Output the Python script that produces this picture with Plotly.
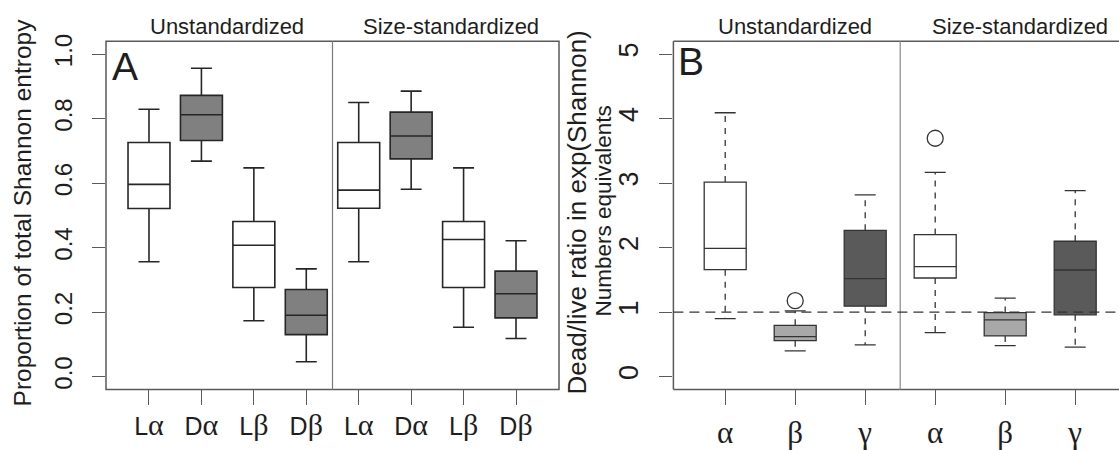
import plotly.graph_objects as go

# ---------------- Panel A data: proportion of total Shannon entropy ----------------
a_labels = ["Lα", "Dα", "Lβ", "Dβ", "Lα", "Dα", "Lβ", "Dβ"]
a_low = [0.356, 0.668, 0.173, 0.046, 0.356, 0.581, 0.153, 0.118]
a_q1 = [0.521, 0.732, 0.276, 0.130, 0.522, 0.675, 0.276, 0.182]
a_med = [0.596, 0.812, 0.407, 0.190, 0.578, 0.746, 0.425, 0.257]
a_q3 = [0.726, 0.872, 0.481, 0.270, 0.726, 0.820, 0.481, 0.327]
a_high = [0.829, 0.956, 0.647, 0.334, 0.850, 0.885, 0.647, 0.421]
a_ticks = [0.0, 0.2, 0.4, 0.6, 0.8, 1.0]

# ---------------- Panel B data: dead/live ratio in exp(Shannon) ----------------
b_labels = ["α", "β", "γ", "α", "β", "γ"]
b_low = [0.898, 0.397, 0.491, 0.680, 0.481, 0.456]
b_q1 = [1.657, 0.556, 1.091, 1.528, 0.630, 0.957]
b_med = [1.989, 0.620, 1.518, 1.706, 0.878, 1.652]
b_q3 = [3.016, 0.794, 2.267, 2.202, 0.992, 2.098]
b_high = [4.090, 1.017, 2.817, 3.165, 1.215, 2.882]
b_out_idx = [1, 3]          # index of box having an outlier
b_out_val = [1.176, 3.695]
b_ticks = [0, 1, 2, 3, 4, 5]
b_ref = 1.0

group_titles = ["Unstandardized", "Size-standardized"]

# ---------------- styles ----------------
a_fill = ["white", "#808080", "white", "#808080"] * 2
b_fill = ["white", "#a8a8a8", "#5a5a5a"] * 2
SANS = "Liberation Sans"
SERIF = "Liberation Serif"
INK = "#1e1e1e"
FRAME = "#5a5a5a"

W, H = 1119, 450
def px(x):
    return x / W
def py(y):
    return 1 - y / H

a_pos = list(range(1, len(a_labels) + 1))
b_pos = list(range(1, len(b_labels) + 1))

fig = go.Figure()

# Panel A boxes (solid whiskers)
for i, p in enumerate(a_pos):
    fig.add_trace(go.Box(
        x=[p], q1=[a_q1[i]], median=[a_med[i]], q3=[a_q3[i]],
        lowerfence=[a_low[i]], upperfence=[a_high[i]],
        width=0.8, whiskerwidth=0.5, fillcolor=a_fill[i],
        line=dict(color="#262626", width=1.6), boxpoints=False,
        xaxis="x", yaxis="y", showlegend=False, hoverinfo="skip"))

# Panel B boxes (dashed whiskers drawn separately)
for i, p in enumerate(b_pos):
    fig.add_trace(go.Scatter(
        x=[p, p, None, p, p], y=[b_q3[i], b_high[i], None, b_q1[i], b_low[i]],
        mode="lines", line=dict(color="#333333", width=1.3, dash="6px,6px"),
        xaxis="x2", yaxis="y2", showlegend=False, hoverinfo="skip"))
    fig.add_trace(go.Scatter(
        x=[p - 0.15, p + 0.15, None, p - 0.15, p + 0.15],
        y=[b_high[i], b_high[i], None, b_low[i], b_low[i]],
        mode="lines", line=dict(color="#333333", width=1.3),
        xaxis="x2", yaxis="y2", showlegend=False, hoverinfo="skip"))
    fig.add_trace(go.Box(
        x=[p], q1=[b_q1[i]], median=[b_med[i]], q3=[b_q3[i]],
        lowerfence=[b_q1[i]], upperfence=[b_q3[i]],
        width=0.6, whiskerwidth=0, fillcolor=b_fill[i],
        line=dict(color="#333333", width=1.3), boxpoints=False,
        xaxis="x2", yaxis="y2", showlegend=False, hoverinfo="skip"))

# outliers
fig.add_trace(go.Scatter(
    x=[b_pos[k] for k in b_out_idx], y=b_out_val, mode="markers",
    marker=dict(symbol="circle-open", size=16, color="#333333", line=dict(width=1.3)),
    xaxis="x2", yaxis="y2", showlegend=False, hoverinfo="skip"))

ydom = [py(398.4), py(35.6)]
a_xdom = [px(106), px(559)]
b_xdom = [px(673.4), 1.0]
b_right = 0.26 + (W - 673.4) / 70.0

a_ticktext = [
    f"{s[0]}<span style='font-family:{SERIF};font-size:30px'>{s[1]}</span>" for s in a_labels
]

common_y = dict(showgrid=False, zeroline=False, showline=False, ticks="outside",
                ticklen=13, tickwidth=1.3, tickcolor=FRAME, tickangle=-90)
common_x = dict(showgrid=False, zeroline=False, showline=False, ticks="outside",
                ticklen=15, tickwidth=1.3, tickcolor=FRAME)

fig.update_layout(
    width=W, height=H, autosize=False,
    margin=dict(l=0, r=0, t=0, b=0),
    paper_bgcolor="white", plot_bgcolor="white",
    boxmode="overlay",
    font=dict(family=SANS, color=INK),
    xaxis=dict(domain=a_xdom, range=[0.18, 8.82], tickmode="array", tickvals=a_pos,
               ticktext=a_ticktext, tickfont=dict(size=25, family=SANS, color=INK),
               anchor="y", **common_x),
    yaxis=dict(domain=ydom, range=[-0.04, 1.04], tickmode="array", tickvals=a_ticks,
               ticktext=[f"{v:.1f}" for v in a_ticks], ticklabelstandoff=10,
               tickfont=dict(size=24, family=SANS, color=INK), anchor="x", **common_y),
    xaxis2=dict(domain=b_xdom, range=[0.26, b_right], tickmode="array", tickvals=b_pos,
                ticktext=b_labels, tickfont=dict(size=31, family=SERIF, color=INK),
                anchor="y2", **common_x),
    yaxis2=dict(domain=ydom, range=[-0.2, 5.2], tickmode="array", tickvals=b_ticks,
                ticktext=[str(v) for v in b_ticks], ticklabelstandoff=11,
                tickfont=dict(size=27, family=SANS, color=INK), anchor="x2", **common_y),
)

shapes = []
shapes.append(dict(type="rect", xref="x domain", yref="y domain", x0=0, x1=1, y0=0, y1=1,
                   line=dict(color=FRAME, width=1.5), layer="above"))
for (x0, y0, x1, y1) in [(0, 0, 0, 1), (0, 1, 1, 1), (0, 0, 1, 0)]:
    shapes.append(dict(type="line", xref="x2 domain", yref="y2 domain", x0=x0, x1=x1, y0=y0, y1=y1,
                       line=dict(color=FRAME, width=1.5), layer="above"))
shapes.append(dict(type="line", xref="x", yref="y domain", x0=4.5, x1=4.5, y0=0, y1=1,
                   line=dict(color="#7a7a7a", width=1.2), layer="above"))
shapes.append(dict(type="line", xref="x2", yref="y2 domain", x0=3.5, x1=3.5, y0=0, y1=1,
                   line=dict(color="#8a8a8a", width=1.2), layer="above"))
shapes.append(dict(type="line", xref="x2 domain", yref="y2", x0=0, x1=1, y0=b_ref, y1=b_ref,
                   line=dict(color="#333333", width=1.3, dash="10px,6px"), layer="above"))
fig.update_layout(shapes=shapes)

ann = []
def txt(x, y, s, size, angle=0, family=SANS):
    ann.append(dict(x=px(x), y=py(y), xref="paper", yref="paper", text=s, showarrow=False,
                    xanchor="center", yanchor="middle", textangle=angle,
                    font=dict(size=size, family=family, color=INK)))

txt(227, 20, group_titles[0], 22)
txt(451, 20, group_titles[1], 22)
txt(795, 20, group_titles[0], 22)
txt(1020, 20, group_titles[1], 22)
# panel letters (centre positions)
txt(125, 62, "A", 39)
txt(690.5, 57, "B", 39)
txt(22, 214, "Proportion of total Shannon entropy", 24.5, -90)
txt(577, 214, "Dead/live ratio in exp(Shannon)", 26, -90)
txt(603, 213, "Numbers equivalents", 22.5, -90)
fig.update_layout(annotations=ann)

fig.write_html("out.html")
